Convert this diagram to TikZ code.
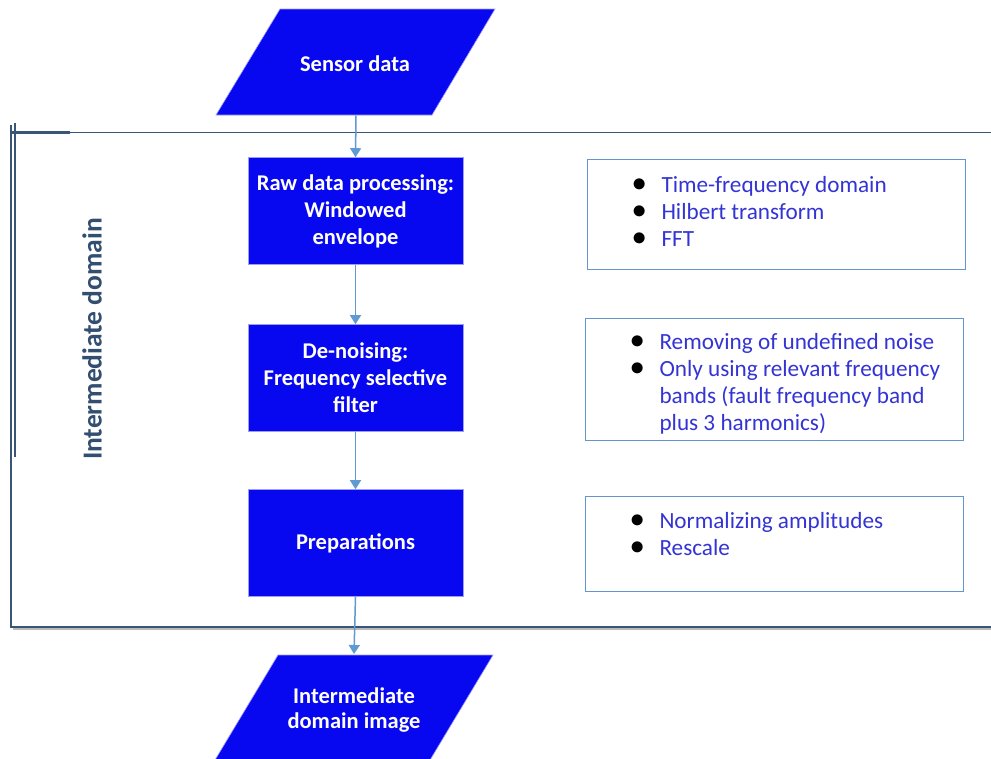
\documentclass[tikz,border=0pt]{standalone}
\usepackage{fontspec}
\setmainfont{Carlito}
\usetikzlibrary{arrows.meta}
\definecolor{procblue}{RGB}{8,8,240}
\definecolor{notetext}{RGB}{52,52,212}
\definecolor{noteline}{RGB}{100,150,205}
\definecolor{frameline}{RGB}{58,86,118}
\definecolor{domaintext}{RGB}{50,78,112}
\definecolor{flowarrow}{RGB}{95,155,210}
\tikzset{
  procbox/.style={fill=procblue, draw=procblue!40!white, line width=0.6pt,
    minimum width=215pt, minimum height=107pt, text=white, align=center,
    font=\fontsize{22.5}{27}\selectfont\bfseries, inner sep=0pt},
  iotext/.style={text=white, align=center, font=\fontsize{22.5}{25.5}\selectfont\bfseries,
    minimum width=150pt, minimum height=104pt, inner sep=0pt},
  iofill/.style={fill=procblue, draw=procblue!40!white, line width=0.6pt},
  notebox/.style={draw=noteline, line width=1.2pt, fill=white, anchor=north west,
    inner sep=0pt},
  notetxt/.style={text=notetext, anchor=north west, align=left, inner sep=0pt,
    font=\fontsize{23.2}{26.8}\selectfont},
  flow/.style={draw=flowarrow, line width=1.5pt, -{Triangle[width=11pt,length=9pt]}},
  frame/.style={draw=frameline, line width=1.3pt},
}
\newcommand{\notelist}[1]{%
  \begin{tabular}{@{}l@{\hspace{15pt}}p{300pt}@{}}#1\end{tabular}}
\newcommand{\bul}{\textcolor{black}{\raisebox{1pt}{\scalebox{1.15}{$\bullet$}}}}
\begin{document}
\begin{tikzpicture}[x=1pt,y=-1pt]
  \useasboundingbox (0,0) rectangle (991,758);
  \fill[white] (0,0) rectangle (991,758);

  % enclosing frame of the intermediate domain
  \draw[gray!55, line width=2.2pt] (13,628.8) -- (991,628.8);
  \draw[frame] (11,125) -- (11,627) -- (991,627);
  \draw[frame] (10,132.5) -- (991,132.5);
  \draw[frameline, line width=2.6pt] (10,132.5) -- (70,132.5);
  \draw[frameline, line width=2pt] (14.5,123) -- (14.5,457);
  \node[rotate=90, text=domaintext, font=\fontsize{27.5}{30}\selectfont\bfseries]
    (domain) at (92,339) {Intermediate domain};

  % input parallelogram
  \fill[iofill] (280,9) -- (495,9) -- (432,115) -- (216,115) -- cycle;
  \node[iotext] (sensor) at (355,64) {Sensor data};

  % processing steps
  \node[procbox] (raw) at (355.5,211) {Raw data processing:\\Windowed\\envelope};
  \node[procbox] (denoise) at (355.5,378) {De-noising:\\Frequency selective\\filter};
  \node[procbox] (prep) at (355.5,543) {Preparations};

  % output parallelogram
  \fill[iofill] (278,655) -- (493,655) -- (430,760) -- (215,760) -- cycle;
  \node[iotext] (image) at (354,710) {Intermediate\\domain image};

  % connectors
  \draw[flow] (356,115.5) -- (raw.north);
  \draw[flow] (raw.south) -- (denoise.north);
  \draw[flow] (denoise.south) -- (prep.north);
  \draw[flow] (prep.south) -- (354,654);

  % side notes
  \node[notebox, minimum width=378pt, minimum height=110pt] (noteA) at (587,159) {};
  \node[notetxt] (txtA) at (632,174)
    {\notelist{\bul & Time-frequency domain\\ \bul & Hilbert transform\\ \bul & FFT}};

  \node[notebox, minimum width=378pt, minimum height=122pt] (noteB) at (585,318) {};
  \node[notetxt] (txtB) at (630,331)
    {\begin{tabular}{@{}l@{\hspace{15pt}}p{300pt}@{}}
      \bul & Removing of undefined noise\\
      \bul & Only using relevant frequency\\
           & bands (fault frequency band\\
           & plus 3 harmonics)
    \end{tabular}};

  \node[notebox, minimum width=378pt, minimum height=95pt] (noteC) at (585,496) {};
  \node[notetxt] (txtC) at (630,510)
    {\notelist{\bul & Normalizing amplitudes\\ \bul & Rescale}};
\end{tikzpicture}
\end{document}
